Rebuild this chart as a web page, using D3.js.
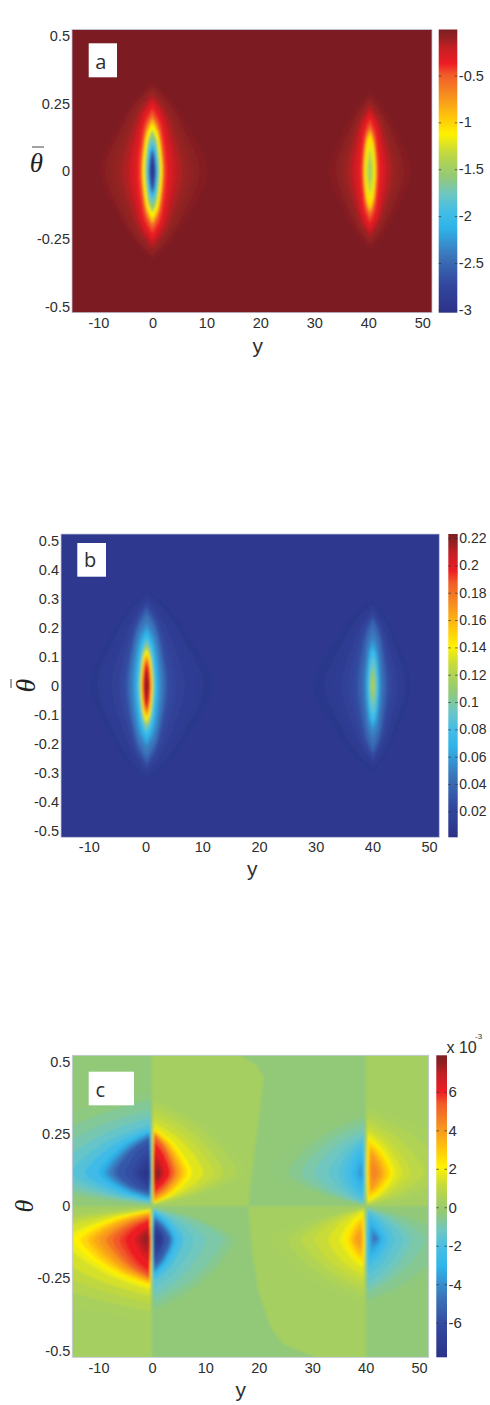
<!DOCTYPE html>
<html>
<head>
<meta charset="utf-8">
<style>
  body { margin: 0; background: #fff; }
  svg { display: block; }
  text { font-family: "Liberation Sans", Arial, sans-serif; fill: #2e2e2e; }
</style>
<script src="https://cdn.jsdelivr.net/npm/d3@7"></script>
</head>
<body>
<div id="my_dataviz"></div>
<script>
// tick labels
var xTicks = [-10, 0, 10, 20, 30, 40, 50];
var thetaTicksA = [0.5, 0.25, 0, -0.25, -0.5];
var thetaTicksB = [0.5, 0.4, 0.3, 0.2, 0.1, 0, -0.1, -0.2, -0.3, -0.4, -0.5];
var barTicksA = [-0.5, -1, -1.5, -2, -2.5, -3];
var barTicksB = [0.22, 0.2, 0.18, 0.16, 0.14, 0.12, 0.1, 0.08, 0.06, 0.04, 0.02];
var barTicksC = [6, 4, 2, 0, -2, -4, -6];

// the colour ramp of all three colour bars
var rampStops = [0, 0.1, 0.2, 0.3, 0.36, 0.42, 0.48, 0.52, 0.57, 0.63, 0.69, 0.76, 0.84, 0.88, 0.94, 0.97, 1];
var rampColors = ["#2b3388", "#32479e", "#3b74b9", "#2fb4e9", "#45bde6", "#6fc7c0", "#93c975", "#a7d05f",
  "#c6da3a", "#fff200", "#ffc60b", "#f7941e", "#f15a29", "#ed1c24", "#c01f24", "#962022", "#7c1f21"];

// a: contours, [level, half width right, half height in theta, width at half height, half width left]
var lobeA1 = [[-.04,10.2,.325,.65,9.6],[-.06,8.8,.315,.66],[-.085,7.6,.305,.67],[-.11,6.6,.295,.68],[-.145,5.6,.285,.7],[-.19,4.8,.275,.72],
  [-.25,4.1,.265,.74],[-.31,3.5,.255,.76],[-.37,3,.245,.78],[-.44,2.55,.23,.8],[-.5,2.25,.218,.8],[-.6,2.05,.205,.8],
  [-.75,1.95,.197,.8],[-.9,1.87,.19,.8],[-1.13,1.75,.175,.8],[-1.4,1.45,.155,.8],[-1.6,1.25,.14,.8],[-1.8,1.08,.122,.8],
  [-2,.92,.105,.8],[-2.2,.78,.09,.8],[-2.4,.65,.08,.8],[-2.6,.55,.07,.8],[-2.8,.45,.055,.8],[-2.95,.3,.03,.8]];
var lobeA2 = [[-.04,7.5,.29,.65],[-.06,6.4,.275,.66],[-.085,5.5,.265,.67],[-.11,4.8,.255,.68],[-.145,4.1,.245,.7],[-.19,3.5,.235,.72],
  [-.25,3,.225,.74],[-.31,2.5,.215,.76],[-.37,2,.205,.78],[-.44,1.65,.19,.8],[-.5,1.4,.175,.8],[-.6,1.25,.165,.8],
  [-.75,1.18,.155,.8],[-.9,1.1,.145,.8],[-1.05,1.03,.135,.8],[-1.2,.85,.105,.8],[-1.3,.62,.078,.8],[-1.45,.38,.045,.8]];

// b: same kind of rows
var lobeB1 = [[.005,11.7,.33,.65,10],[.009,10,.32,.66,8.8],[.012,8.8,.31,.67,8],[.0154,6.8,.3,.68,6.2],[.021,5.3,.29,.7,5],[.025,4.4,.28,.72],
  [.034,3.6,.27,.74],[.04,3.25,.255,.76],[.045,3,.245,.78],[.05,2.7,.225,.8],[.056,2.4,.21,.8],[.062,2.15,.2,.8],[.068,1.9,.19,.8],
  [.08,1.65,.175,.8],[.094,1.46,.16,.8],[.11,1.25,.145,.8],[.125,1.12,.135,.8],[.14,1,.125,.8],[.155,.9,.112,.8],[.17,.8,.1,.8],
  [.185,.7,.09,.8],[.2,.55,.075,.8],[.212,.38,.055,.8],[.22,.2,.03,.8]];
var lobeB2 = [[.005,6.7,.3,.65,10.6],[.009,5.8,.285,.66,8.5],[.012,5.2,.275,.67,7],[.0154,4.4,.265,.68,5.6],[.021,3.6,.255,.7,4.4],[.025,3,.245,.72,3.5],
  [.034,2.5,.235,.74,2.7],[.04,2.1,.22,.76],[.045,1.76,.2,.78],[.05,1.5,.18,.8],[.056,1.3,.16,.8],[.062,1.15,.145,.8],[.068,1,.135,.8],
  [.08,.88,.125,.8],[.09,.72,.1,.8],[.1,.55,.07,.8],[.11,.4,.05,.8],[.118,.22,.025,.8]];

// c: contours of the eight lobes, [level, y at the inner edge, y at the apex, theta near the axis, theta far from it]
var lobeC1 = [[-.4,-.05,-34,.003,.4],[-.7,-.1,-26,.006,.37],[-1,-.1,-22,.01,.335],[-1.4,-.12,-18,.012,.31],[-1.8,-.14,-15,.016,.285],
  [-2.4,-.16,-12.5,.02,.27],[-3.1,-.18,-10,.024,.26],[-3.6,-.2,-9,.028,.255],[-4.1,-.22,-8.3,.032,.25],[-4.5,-.24,-7.9,.036,.245],
  [-5,-.26,-7.2,.04,.24],[-5.6,-.28,-6.6,.045,.235],[-6,-.3,-5,.05,.22],[-6.4,-.35,-3.6,.06,.195],[-6.8,-.45,-2.8,.068,.175],
  [-7.2,-.6,-2.2,.08,.155],[-7.6,-.8,-1.6,.095,.135]];
var lobeC2 = [[.35,.05,17.5,.003,.375],[.6,.1,15.8,.006,.36],[.9,.1,13.4,.008,.335],[1.2,.12,11.6,.01,.31],[1.6,.14,9.6,.011,.29],
  [2.1,.16,7.4,.012,.272],[2.7,.18,6.6,.013,.267],[3.2,.2,5.9,.016,.262],[3.7,.22,5.4,.02,.258],[4.1,.24,4.9,.026,.254],
  [4.8,.26,4.4,.032,.25],[5.4,.28,4,.04,.245],[6,.3,3.4,.05,.225],[6.6,.4,2.4,.07,.19],[7.1,.6,1.9,.08,.165],[7.6,.8,1.5,.095,.135]];
var lobeC3 = [[.4,-.05,-40,-.003,-.4],[.7,-.1,-32,-.006,-.365],[1,-.1,-26,-.008,-.335],[1.4,-.12,-21,-.01,-.31],[1.8,-.14,-16.5,-.012,-.29],
  [2.1,-.16,-14.7,-.014,-.278],[2.7,-.18,-13.3,-.016,-.272],[3.2,-.2,-12,-.02,-.266],[3.7,-.22,-10.9,-.024,-.26],[4.1,-.24,-9.8,-.028,-.255],
  [4.8,-.26,-8.5,-.033,-.25],[5.4,-.28,-7.25,-.04,-.245],[5.7,-.3,-6,-.045,-.235],[6,-.32,-5,-.05,-.225],[6.6,-.4,-3.2,-.07,-.19],
  [7.1,-.6,-2.4,-.08,-.165],[7.6,-.8,-1.6,-.095,-.135]];
var lobeC4 = [[-.35,.05,16.5,-.003,-.37],[-.6,.1,15,-.006,-.355],[-.9,.1,13.2,-.008,-.33],[-1.2,.12,10,-.01,-.31],[-1.5,.14,7.8,-.012,-.285],
  [-2.1,.16,5.9,-.015,-.26],[-2.6,.18,4.8,-.02,-.245],[-3.1,.2,4.3,-.024,-.237],[-3.8,.22,4,-.03,-.23],[-4.5,.24,3.7,-.038,-.222],
  [-5.1,.26,3.4,-.045,-.214],[-5.6,.3,3.1,-.052,-.205],[-6.2,.35,2.4,-.06,-.185],[-6.8,.5,2.1,-.07,-.165],[-7.3,.7,1.8,-.085,-.145],[-7.6,.9,1.5,-.1,-.125]];
var lobeC5 = [[-.35,39.95,22,.004,.335],[-.6,39.9,25.5,.006,.31],[-.9,39.9,28,.008,.285],[-1.2,39.85,30.5,.01,.262],[-1.5,39.8,33,.012,.245],
  [-1.8,39.75,34.8,.016,.235],[-2.1,39.7,36,.026,.225],[-2.4,39.65,36.8,.036,.21],[-2.8,39.6,37.5,.05,.19],[-3.2,39.5,38.1,.07,.17],[-3.7,39.4,38.6,.09,.15]];
var lobeC6 = [[.35,40.05,60,.003,.345],[.6,40.1,55,.005,.325],[.9,40.1,51,.007,.3],[1.2,40.15,48.5,.01,.28],[1.5,40.2,46.8,.012,.262],
  [1.8,40.25,45.6,.014,.25],[2.2,40.3,45,.02,.24],[2.6,40.4,44.6,.028,.228],[3,40.5,44.2,.036,.218],[3.5,40.6,43.6,.045,.205],[4,40.8,43,.055,.19],[4.4,41,42.3,.08,.16]];
var lobeC7 = [[.35,39.95,22,-.004,-.335],[.6,39.9,25.5,-.006,-.31],[.9,39.9,28,-.008,-.285],[1.2,39.85,30.5,-.01,-.262],[1.5,39.8,33,-.012,-.24],
  [1.9,39.75,35.2,-.018,-.215],[2.3,39.7,36.2,-.028,-.2],[2.7,39.6,36.8,-.036,-.19],[3.1,39.5,37.2,-.045,-.178],[3.5,39.4,37.6,-.06,-.165],[3.9,39.3,38,-.08,-.145]];
var lobeC8 = [[-.35,40.05,60,-.003,-.34],[-.6,40.1,55,-.005,-.325],[-.9,40.1,51,-.007,-.3],[-1.2,40.15,48.5,-.01,-.285],[-1.5,40.2,47,-.012,-.265],
  [-1.8,40.25,45.5,-.016,-.24],[-2.1,40.3,44.4,-.024,-.215],[-2.5,40.4,43.8,-.034,-.2],[-3,40.6,43.2,-.05,-.18],[-3.5,40.8,42.8,-.065,-.16],[-4,41,42.5,-.08,-.14],[-4.6,41.3,42.2,-.095,-.125]];

// c: the four pale yellower patches of the background, [y, theta] outlines at level +0.3
var patchLevel = 0.3;
var baseLevelC = -0.3;
var patchC1 = [[0,.6],[14,.6],[16.5,.525],[19.5,.49],[20.9,.45],[20.6,.4],[18,0],[0,0]];
var patchC2 = [[18,0],[18.8,-.16],[20,-.3],[22.4,-.427],[24.7,-.48],[30.8,-.525],[40,-.6],[40,0]];
var patchC3 = [[-20,0],[0,0],[0,-.6],[-20,-.6]];
var patchC4 = [[40,0],[60,0],[60,.6],[40,.6]];

var svg = d3.select("#my_dataviz").append("svg").attr("width", 490).attr("height", 1405);
var defs = svg.append("defs");

var soft = defs.append("filter").attr("id", "soft").attr("x", "-5%").attr("y", "-5%").attr("width", "110%").attr("height", "110%");
soft.append("feGaussianBlur").attr("stdDeviation", 0.9);

var grad = defs.append("linearGradient").attr("id", "ramp").attr("x1", 0).attr("y1", 1).attr("x2", 0).attr("y2", 0);
rampStops.forEach(function (s, i) {
  grad.append("stop").attr("offset", s).attr("stop-color", rampColors[i]);
});
var ramp = d3.scaleLinear().domain(rampStops).range(rampColors).clamp(true);

var lineGen = d3.line().curve(d3.curveCatmullRom.alpha(0.5));

// sets up one panel: plot area, colour bar, axes, and returns scales + heat group
function panel(id, o) {
  var x = d3.scaleLinear().domain([-14.9, 51.8]).range([o.left, o.right]);
  var y = d3.scaleLinear().domain([-o.thetaMax, o.thetaMax]).range([o.bottom, o.top]);
  var bar = d3.scaleLinear().domain(o.barDomain).range([o.bottom, o.top]);
  var color = function (v) { return ramp((v - o.barDomain[0]) / (o.barDomain[1] - o.barDomain[0])); };

  defs.append("clipPath").attr("id", "clip" + id).append("rect")
    .attr("x", o.left).attr("y", o.top).attr("width", o.right - o.left).attr("height", o.bottom - o.top);

  var g = svg.append("g");
  var heat = g.append("g").attr("clip-path", "url(#clip" + id + ")").append("g").attr("filter", "url(#soft)");
  heat.append("rect").attr("x", o.left - 20).attr("y", o.top - 20)
    .attr("width", o.right - o.left + 40).attr("height", o.bottom - o.top + 40)
    .attr("fill", color(o.base));

  g.append("rect").attr("x", o.left).attr("y", o.top).attr("width", o.right - o.left).attr("height", o.bottom - o.top)
    .attr("fill", "none").attr("stroke", "#c4c6dc").attr("stroke-width", 0.8);

  // axes
  var ax = g.append("g").attr("transform", "translate(0," + o.bottom + ")")
    .call(d3.axisBottom(x).tickValues(xTicks).tickSize(0).tickPadding(o.xPad).tickFormat(String));
  var ay = g.append("g").attr("transform", "translate(" + o.left + ",0)")
    .call(d3.axisLeft(y).tickValues(o.thetaTicks).tickSize(0).tickPadding(2).tickFormat(String));
  [ax, ay].forEach(function (a) {
    a.select(".domain").remove();
    a.attr("font-family", null).attr("font-size", null);
    a.selectAll("text").style("font-size", "14.5px");
  });

  // colour bar
  g.append("rect").attr("x", o.barLeft).attr("y", o.top).attr("width", o.barRight - o.barLeft).attr("height", o.bottom - o.top)
    .attr("fill", "url(#ramp)");
  var ab = g.append("g").attr("transform", "translate(" + o.barRight + ",0)")
    .call(d3.axisRight(bar).tickValues(o.barTicks).tickSize(0).tickPadding(o.barPad).tickFormat(String));
  ab.select(".domain").remove();
  ab.attr("font-family", null).attr("font-size", null);
  ab.selectAll("text").style("font-size", o.barFont + "px");
  ab.selectAll(".tick").append("line").attr("x1", -2.5).attr("x2", 0).attr("stroke", "#333").attr("stroke-width", 0.7);
  ab.selectAll(".tick").append("line").attr("x1", o.barLeft - o.barRight).attr("x2", o.barLeft - o.barRight + 2.5)
    .attr("stroke", "#333").attr("stroke-width", 0.7);

  // panel letter box
  g.append("rect").attr("x", o.box[0]).attr("y", o.box[1]).attr("width", o.box[2]).attr("height", o.box[3]).attr("fill", "#fff");
  g.append("text").attr("x", o.letterX).attr("y", o.letterY).attr("text-anchor", "middle")
    .style("font-family", "'Open Sans'").style("font-size", "20px").text(id);

  g.append("text").attr("x", o.yLabel[0]).attr("y", o.yLabel[1]).attr("text-anchor", "middle")
    .style("font-size", "21px").text("y");

  return { x: x, y: y, color: color, heat: heat, g: g };
}

// lens shaped contours, pointed at top and bottom
function drawLens(p, cy, rows) {
  rows.forEach(function (r) {
    var w = r[1], h = r[2], s = r[3], wl = r[4] || r[1];
    var t = s * s * 0.8; // width near the tip follows from the width at half height
    var right = [[0, h], [w * t, h * 0.8], [w * s, h / 2], [w, 0], [w * s, -h / 2], [w * t, -h * 0.8], [0, -h]];
    var left = [[0, -h], [-wl * t, -h * 0.8], [-wl * s, -h / 2], [-wl, 0], [-wl * s, h / 2], [-wl * t, h * 0.8], [0, h]];
    var toPx = function (d) { return [p.x(cy + d[0]), p.y(d[1])]; };
    p.heat.append("path")
      .attr("d", lineGen(right.map(toPx)) + lineGen(left.map(toPx)).replace("M", "L") + "Z")
      .attr("fill", p.color(r[0]));
  });
}

// D shaped contours of panel c: flat towards the axis at y, apex pointing away
function drawLobes(p, rows, apexTheta) {
  rows.forEach(function (r) {
    var yi = r[1], ya = r[2], near = r[3], far = r[4];
    var cornerY = yi + Math.sign(ya - yi) * Math.min(0.2, Math.abs(ya - yi) * 0.14);
    var at = function (fy, ft, end) {
      return [yi + (ya - yi) * fy, apexTheta + (end - apexTheta) * ft];
    };
    var outer = [[cornerY, far], at(0.2, 0.9, far), at(0.5, 0.7, far), at(0.86, 0.3, far), [ya, apexTheta],
      at(0.86, 0.3, near), at(0.5, 0.7, near), at(0.2, 0.9, near), [cornerY, near]];
    var inner = [[cornerY, near], [yi, apexTheta], [cornerY, far]];
    var toPx = function (d) { return [p.x(d[0]), p.y(d[1])]; };
    p.heat.append("path")
      .attr("d", lineGen(outer.map(toPx)) + lineGen(inner.map(toPx)).replace("M", "L") + "Z")
      .attr("fill", p.color(r[0]));
  });
}

// panel a
var pa = panel("a", {
  left: 72, right: 432, top: 29.5, bottom: 312.7, thetaMax: 0.523, thetaTicks: thetaTicksA,
  barLeft: 438.7, barRight: 457.3, barDomain: [-3.03, -0.01], barTicks: barTicksA, barPad: 1.5, barFont: 14.5,
  base: -0.01, xPad: 5, box: [88.7, 43.3, 28.3, 34], letterX: 100.7, letterY: 68.5, yLabel: [257.7, 352.5]
});
drawLens(pa, 0, lobeA1);
drawLens(pa, 40.3, lobeA2);

// panel b
var pb = panel("b", {
  left: 61, right: 439.3, top: 534, bottom: 837.3, thetaMax: 0.523, thetaTicks: thetaTicksB,
  barLeft: 448.3, barRight: 457.7, barDomain: [0.001, 0.223], barTicks: barTicksB, barPad: 1.5, barFont: 14,
  base: 0.008, xPad: 4, box: [77.3, 543, 28.7, 33.7], letterX: 90, letterY: 567, yLabel: [252.3, 876]
});
drawLens(pb, 0.2, lobeB1);
drawLens(pb, 40.1, lobeB2);

// panel c
var pc = panel("c", {
  left: 72.3, right: 428.7, top: 1055.3, bottom: 1357.3, thetaMax: 0.524, thetaTicks: thetaTicksA,
  barLeft: 436.3, barRight: 447, barDomain: [-7.8, 7.9], barTicks: barTicksC, barPad: 1.5, barFont: 15,
  base: baseLevelC, xPad: 5, box: [88.7, 1071.7, 45.3, 33.6], letterX: 100.3, letterY: 1097, yLabel: [240.7, 1397]
});
[patchC1, patchC2, patchC3, patchC4].forEach(function (patch) {
  pc.heat.append("path").attr("fill", pc.color(patchLevel))
    .attr("d", d3.line().x(function (d) { return pc.x(d[0]); }).y(function (d) { return pc.y(d[1]); })(patch) + "Z");
});
drawLobes(pc, lobeC5, 0.115);
drawLobes(pc, lobeC6, 0.115);
drawLobes(pc, lobeC7, -0.115);
drawLobes(pc, lobeC8, -0.115);
drawLobes(pc, lobeC1, 0.115);
drawLobes(pc, lobeC2, 0.115);
drawLobes(pc, lobeC3, -0.115);
drawLobes(pc, lobeC4, -0.115);

// theta labels
svg.append("text").attr("x", 36.5).attr("y", 172).attr("text-anchor", "middle")
  .style("font-family", "'Liberation Serif'").style("font-style", "italic").style("font-size", "27px").style("fill", "#222").text("θ");
svg.append("line").attr("x1", 32).attr("x2", 44).attr("y1", 147).attr("y2", 147).attr("stroke", "#444").attr("stroke-width", 1);

svg.append("text").attr("transform", "translate(34.5,685.5) rotate(-90)").attr("text-anchor", "middle")
  .style("font-family", "'Liberation Serif'").style("font-style", "italic").style("font-size", "28px").style("fill", "#222").text("θ");
svg.append("line").attr("x1", 11).attr("x2", 11).attr("y1", 679).attr("y2", 688).attr("stroke", "#444").attr("stroke-width", 1);

svg.append("text").attr("transform", "translate(33,1206) rotate(-90)").attr("text-anchor", "middle")
  .style("font-family", "'Liberation Serif'").style("font-style", "italic").style("font-size", "26px").style("fill", "#222").text("θ");

// colour bar multiplier of c
svg.append("text").attr("x", 446.5).attr("y", 1053.3).style("font-size", "16px").text("x 10");
svg.append("text").attr("x", 475).attr("y", 1038.5).style("font-size", "8px").text("-3");
</script>
</body>
</html>
